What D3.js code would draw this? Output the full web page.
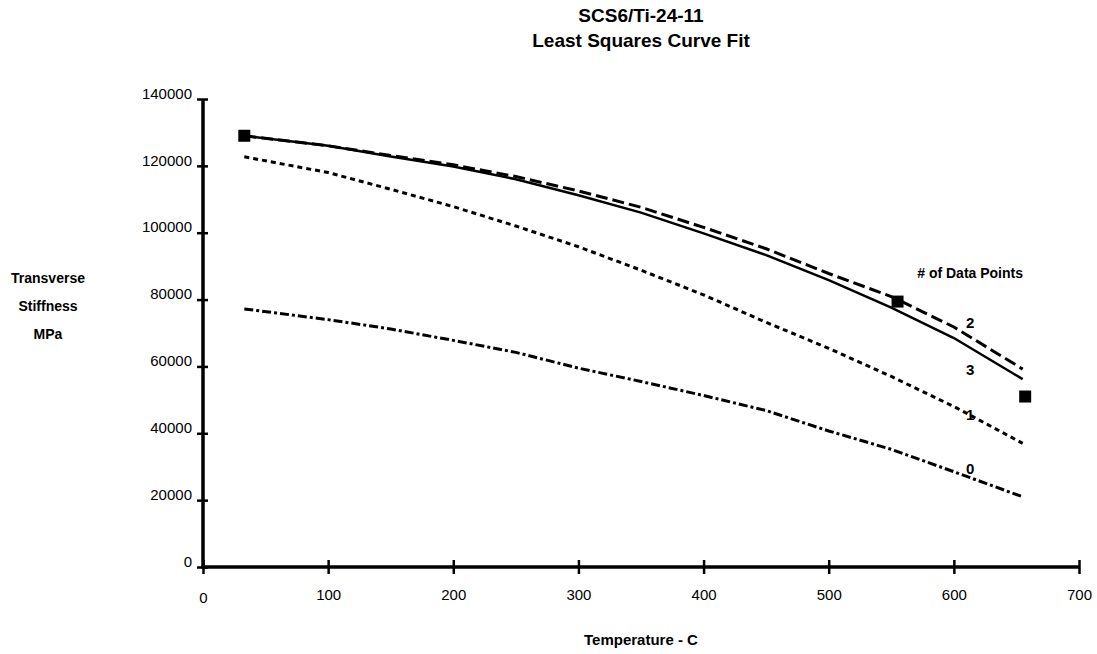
<!DOCTYPE html>
<html>
<head>
<meta charset="utf-8">
<script src="https://cdn.jsdelivr.net/npm/d3@7"></script>
<style>
  body { margin: 0; background: #fff; }
  svg { font-family: 'Liberation Sans', Arial, sans-serif; }
</style>
</head>
<body>
<div id="chart"></div>
<script>
// temperatures (C) at which the fitted curves were read
const temps = [33, 100, 150, 200, 250, 300, 350, 400, 450, 500, 550, 600, 655];
// transverse stiffness (MPa) for each fit, by number of data points
const fit0 = [77200, 74000, 71200, 67800, 64200, 59500, 55500, 51300, 46800, 40700, 35200, 28500, 21000];
const fit1 = [122700, 118000, 113000, 107800, 102000, 95800, 88800, 81400, 73200, 65400, 57000, 48000, 37000];
const fit2 = [129000, 126000, 123100, 120300, 116800, 112500, 107600, 101600, 95200, 87800, 80900, 71800, 59200];
const fit3 = [129000, 126000, 122800, 119800, 116000, 111200, 106000, 99800, 93300, 85800, 77600, 68500, 56200];
// measured data points
const pointTemps = [33, 555, 657];
const pointVals = [129000, 79400, 51000];

const xTicks = [0, 100, 200, 300, 400, 500, 600, 700];
const yTicks = [0, 20000, 40000, 60000, 80000, 100000, 120000, 140000];

const width = 1097, height = 654;
const svg = d3.select('#chart').append('svg')
  .attr('width', width)
  .attr('height', height);

const x = d3.scaleLinear().domain([0, 700]).range([203, 1079]);
const y = d3.scaleLinear().domain([0, 140000]).range([567, 99]);

// title
svg.append('text')
  .attr('x', 641).attr('y', 22)
  .attr('text-anchor', 'middle')
  .style('font-weight', 'bold').style('font-size', '19px')
  .text('SCS6/Ti-24-11');
svg.append('text')
  .attr('x', 641).attr('y', 47)
  .attr('text-anchor', 'middle')
  .style('font-weight', 'bold').style('font-size', '19px')
  .text('Least Squares Curve Fit');

// axes
const yAxis = svg.append('g')
  .attr('transform', 'translate(' + x(0) + ',0)')
  .call(d3.axisLeft(y).tickValues(yTicks).tickFormat(d3.format('d')).tickSizeOuter(0));
const xAxis = svg.append('g')
  .attr('transform', 'translate(0,' + y(0) + ')')
  .call(d3.axisBottom(x).tickValues(xTicks).tickFormat(d3.format('d')).tickSizeOuter(0));

[yAxis, xAxis].forEach(g => {
  g.attr('font-family', null).attr('font-size', null);
  g.select('.domain').remove();
  g.selectAll('.tick line').attr('stroke', '#000').attr('stroke-width', 2.5);
  g.selectAll('.tick text').style('font-size', '15px').attr('fill', '#000');
});
yAxis.selectAll('.tick line').attr('x1', -6).attr('x2', 5);
yAxis.selectAll('.tick text').attr('x', -11).attr('dy', '-0.05em');
xAxis.selectAll('.tick line').attr('y1', -7).attr('y2', 7);
xAxis.selectAll('.tick text').attr('y', 22);
xAxis.selectAll('.tick text').filter(d => d === 0).attr('y', 25);

// heavy axis lines
svg.append('line')
  .attr('x1', x(0)).attr('x2', x(0))
  .attr('y1', y(0) + 1.5).attr('y2', y(140000))
  .attr('stroke', '#000').attr('stroke-width', 3.5);
svg.append('line')
  .attr('x1', x(0) - 1.5).attr('x2', x(700))
  .attr('y1', y(0)).attr('y2', y(0))
  .attr('stroke', '#000').attr('stroke-width', 3.5);

// axis titles
svg.append('text')
  .attr('x', 641).attr('y', 645)
  .attr('text-anchor', 'middle')
  .style('font-weight', 'bold').style('font-size', '15px')
  .text('Temperature - C');
['Transverse', 'Stiffness', 'MPa'].forEach((t, i) => {
  svg.append('text')
    .attr('x', 48).attr('y', 283 + i * 28)
    .attr('text-anchor', 'middle')
    .style('font-weight', 'bold').style('font-size', '14px')
    .text(t);
});

// fitted curves
const line = d3.line()
  .x(d => x(d[0]))
  .y(d => y(d[1]));

const curves = [
  { name: '0', vals: fit0, dash: '9,3,3,3', w: 3, dy: -9 },
  { name: '1', vals: fit1, dash: '5,4', w: 3, dy: 0 },
  { name: '2', vals: fit2, dash: '12,5', w: 3, dy: -14 },
  { name: '3', vals: fit3, dash: null, w: 2.5, dy: 22 }
];

curves.forEach(c => {
  svg.append('path')
    .datum(temps.map((t, i) => [t, c.vals[i]]))
    .attr('fill', 'none')
    .attr('stroke', '#000')
    .attr('stroke-width', c.w)
    .attr('stroke-dasharray', c.dash)
    .attr('d', line);
  const lx = 613;
  const ly = y(d3.scaleLinear().domain(temps).range(c.vals)(lx));
  svg.append('text')
    .attr('x', x(lx)).attr('y', ly + c.dy)
    .attr('dy', '0.35em')
    .attr('text-anchor', 'middle')
    .style('font-weight', 'bold').style('font-size', '15px')
    .text(c.name);
});

svg.append('text')
  .attr('x', x(613)).attr('y', 278)
  .attr('text-anchor', 'middle')
  .style('font-weight', 'bold').style('font-size', '14px')
  .text('# of Data Points');

// data points
svg.selectAll('rect.pt')
  .data(pointTemps.map((t, i) => [t, pointVals[i]]))
  .enter()
  .append('rect')
  .attr('class', 'pt')
  .attr('x', d => x(d[0]) - 6)
  .attr('y', d => y(d[1]) - 6)
  .attr('width', 12)
  .attr('height', 12)
  .attr('fill', '#000');
</script>
</body>
</html>
